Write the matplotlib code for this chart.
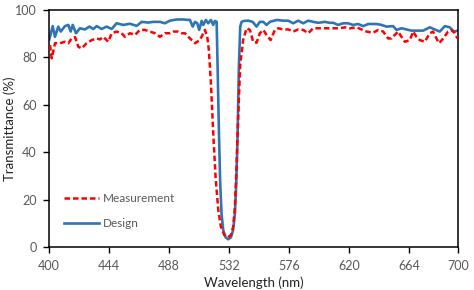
import matplotlib
matplotlib.use("Agg")
import matplotlib.pyplot as plt

# Design (blue) transmittance curve
design_wl = [400.2, 402.7, 404.4, 406.8, 408.6, 411.7, 414.2, 415.9, 417.4, 419.8,
             422.7, 426.4, 429.6, 432.5, 435.0, 438.6, 442.3, 446.0, 449.6, 454.5,
             459.4, 464.3, 468.0, 472.8, 476.5, 481.4, 485.0, 488.7, 493.6, 498.0,
             503.4, 505.4, 507.1, 508.8, 510.2, 512.0, 513.2, 515.1, 516.8, 518.8,
             520.5, 521.7, 523.0, 523.7, 524.7, 525.6, 526.6, 527.8, 529.6, 531.5,
             533.5, 535.1, 536.4, 537.4, 538.4, 539.3, 540.3, 541.3, 543.0, 546.2,
             549.4, 552.3, 554.7, 557.2, 559.6, 562.1, 567.0, 571.8, 575.5, 579.2,
             582.8, 586.5, 590.2, 593.8, 597.5, 602.4, 606.0, 608.5, 612.1, 615.8,
             619.5, 623.1, 626.8, 630.5, 634.2, 640.3, 644.0, 647.6, 652.5, 655.0,
             658.6, 662.3, 665.9, 669.6, 674.5, 679.4, 683.0, 686.7, 690.4, 694.0,
             697.0, 700.0]
design_t = [87.6, 93.2, 88.7, 93.0, 90.9, 93.2, 93.7, 90.9, 93.7, 90.2,
            92.3, 91.8, 93.0, 92.0, 93.2, 92.0, 93.0, 92.0, 94.4, 93.7,
            94.2, 93.3, 95.0, 94.7, 95.0, 95.0, 94.4, 95.5, 96.0, 96.0,
            95.8, 93.0, 95.0, 94.4, 91.6, 95.4, 93.7, 95.8, 94.4, 95.8,
            93.7, 95.4, 95.0, 76.0, 48.0, 27.0, 14.0, 7.2, 4.1, 3.3,
            4.1, 7.2, 14.0, 27.0, 48.0, 76.0, 93.0, 95.0, 95.4, 95.5,
            95.0, 93.0, 95.0, 95.0, 93.7, 95.0, 95.8, 95.5, 95.5, 94.4,
            95.5, 94.4, 95.5, 95.0, 94.6, 95.0, 94.6, 94.6, 93.7, 94.4,
            94.4, 93.7, 94.1, 93.2, 94.1, 94.1, 93.7, 93.0, 93.2, 91.6,
            92.3, 91.8, 91.3, 91.3, 91.3, 92.7, 91.8, 90.9, 93.2, 92.7,
            90.9, 91.3]

# Measurement (red dashed) transmittance curve
meas_wl = [400.7, 402.0, 404.4, 408.1, 411.7, 414.2, 416.6, 419.1, 421.5, 424.0,
           427.6, 431.3, 435.0, 437.4, 439.8, 443.5, 446.0, 449.6, 453.3, 455.7,
           459.4, 463.1, 466.7, 470.4, 474.1, 477.7, 481.4, 485.1, 488.7, 491.2,
           494.8, 497.3, 499.7, 503.4, 507.1, 510.7, 514.4, 516.1, 517.3, 518.8,
           520.5, 522.2, 524.2, 526.1, 528.6, 531.0, 533.5, 535.1, 536.4, 537.6,
           538.8, 540.3, 542.5, 545.0, 547.4, 549.8, 552.3, 554.7, 557.2, 559.6,
           562.6, 565.7, 568.2, 571.8, 575.5, 579.2, 582.8, 586.5, 590.2, 593.8,
           598.7, 603.6, 608.5, 613.4, 617.1, 620.7, 625.6, 629.3, 633.0, 637.8,
           641.5, 645.2, 648.8, 651.3, 653.7, 656.1, 658.6, 661.1, 664.7, 667.2,
           669.6, 672.1, 675.7, 679.4, 681.8, 684.3, 686.2, 689.2, 692.8, 695.3,
           697.7, 699.7]
meas_t = [85.2, 79.6, 86.0, 86.0, 86.6, 86.0, 88.0, 88.6, 84.5, 83.8,
          86.0, 87.3, 88.0, 87.6, 88.7, 86.6, 90.2, 90.9, 90.2, 88.7,
          90.2, 89.5, 91.6, 91.6, 90.9, 90.2, 88.7, 90.2, 90.2, 90.9,
          90.9, 90.2, 90.2, 88.0, 86.0, 87.3, 91.6, 88.7, 83.0, 69.0,
          48.0, 29.6, 15.6, 8.6, 5.1, 4.1, 5.0, 8.6, 17.0, 34.0,
          55.0, 77.0, 87.5, 92.3, 91.6, 86.6, 86.2, 90.2, 91.6, 89.5,
          87.3, 91.6, 92.3, 91.8, 91.8, 90.9, 91.8, 91.6, 90.2, 92.3,
          92.3, 92.3, 92.3, 92.3, 92.7, 92.3, 92.7, 91.8, 90.9, 90.4,
          91.6, 90.9, 88.0, 88.0, 89.5, 90.9, 88.7, 86.6, 87.3, 90.9,
          88.7, 87.3, 86.6, 90.2, 90.9, 88.0, 86.0, 88.0, 90.9, 91.6,
          90.2, 88.0]

x_ticks = [400, 444, 488, 532, 576, 620, 664, 700]
y_ticks = [0, 20, 40, 60, 80, 100]

plt.rcParams['font.family'] = ['Lato', 'DejaVu Sans']

fig = plt.figure(figsize=(4.74, 2.90), dpi=100)
ax = fig.add_axes([0.1034, 0.148, 0.8626, 0.8175])

ax.plot(meas_wl, meas_t, color='#ff0000', linestyle=(0, (2.2, 1.2)), linewidth=1.8,
        label='Measurement', zorder=3)
ax.plot(design_wl, design_t, color='#2e75b6', linewidth=1.9, label='Design', zorder=2)

ax.set_xlim(400, 700)
ax.set_ylim(0, 100)
ax.set_xticks(x_ticks)
ax.set_yticks(y_ticks)
ax.tick_params(labelsize=9, colors='#595959', length=4, width=1, direction='out', pad=5)
ax.tick_params(axis='both', color='black')
for s in ax.spines.values():
    s.set_linewidth(1.1)
    s.set_color('black')

ax.set_xlabel('Wavelength (nm)', fontsize=9.5, color='#222222')
ax.set_ylabel('Transmittance (%)', fontsize=9.5, color='#222222')
ax.xaxis.set_label_coords(0.5, -0.122)
ax.yaxis.set_label_coords(-0.081, 0.5)

handles, labels = ax.get_legend_handles_labels()
leg = ax.legend(handles, labels, loc='lower left', bbox_to_anchor=(0.01, 0.03),
                frameon=False, fontsize=8.5, labelspacing=1.2, handlelength=3.0,
                handletextpad=0.3)
for t in leg.get_texts():
    t.set_color('#595959')

fig.savefig('out.png', dpi=100)
